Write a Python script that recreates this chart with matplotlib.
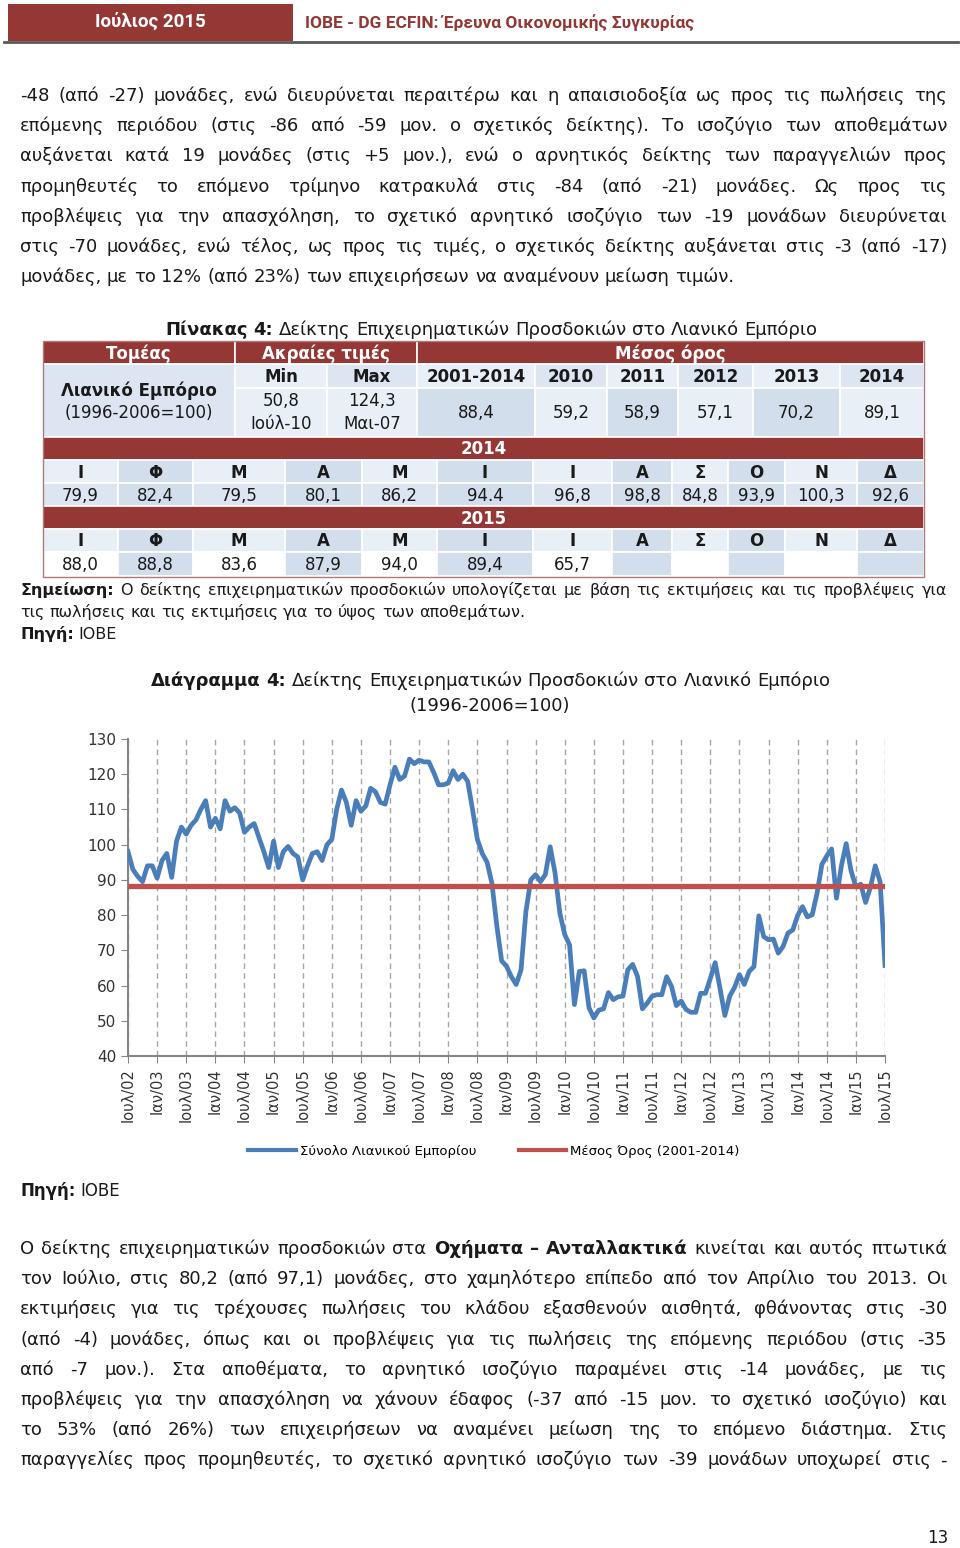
import matplotlib
matplotlib.use('Agg')
import matplotlib.pyplot as plt
from matplotlib.patches import Rectangle
from matplotlib.lines import Line2D

plt.rcParams['font.family'] = ['DejaVu Sans']

RED = '#953735'
BLUE = '#4a7ebb'
LINE_RED = '#c0504d'
TXT = '#1a1a1a'

# ---- data -------------------------------------------------------------
# monthly index, Jul 2002 .. Jul 2015 (1996-2006=100)
retail = [
    98, 93, 91, 89.5, 94, 94,                                               # 2002 (Jul-Dec)
    90.5, 95.5, 97.5, 90.7, 101, 105, 103, 105.5, 107, 110, 112.5, 105,     # 2003
    107.5, 104.5, 112.5, 109.5, 110.5, 109, 103.5, 105, 106, 102, 98, 93.5, # 2004
    101, 93.5, 98, 99.5, 97.5, 96.5, 90, 94, 97.5, 98, 95.5, 100,           # 2005
    101.5, 110, 115.5, 112, 105.5, 112.5, 109.5, 111, 116, 115, 112, 111.5, # 2006
    117, 122, 118.5, 119.5, 124.3, 123, 124, 123.5, 123.5, 120.5, 117, 117, # 2007
    117.5, 121, 118.5, 120, 118, 110, 101.5, 97.5, 95, 89, 77, 67,          # 2008
    65.5, 62.5, 60.3, 64.5, 81, 90, 91.5, 89.5, 91.5, 99.4, 92, 80.5,       # 2009
    74.5, 71.5, 54.6, 64, 64.2, 53.7, 50.8, 53, 53.4, 58, 56, 56.8,         # 2010
    57, 64.5, 66, 62.6, 53.4, 55, 57, 57.4, 57.4, 62.5, 59.8, 54.3,         # 2011
    55.6, 53.2, 52.4, 52.4, 57.8, 57.8, 62, 66.5, 59.2, 51.5, 57, 59.5,     # 2012
    63.1, 60.3, 64, 65.4, 79.8, 73.9, 73, 73.2, 69.2, 71.1, 74.9, 75.8,     # 2013
    79.9, 82.4, 79.5, 80.1, 86.2, 94.4, 96.8, 98.8, 84.8, 93.9, 100.3, 92.6,  # 2014
    88.0, 88.8, 83.6, 87.9, 94.0, 89.4, 65.7,                              # 2015
]
mean_2001_2014 = 88.4
tick_labels = ['Ιουλ/02', 'Ιαν/03', 'Ιουλ/03', 'Ιαν/04', 'Ιουλ/04', 'Ιαν/05', 'Ιουλ/05',
               'Ιαν/06', 'Ιουλ/06', 'Ιαν/07', 'Ιουλ/07', 'Ιαν/08', 'Ιουλ/08', 'Ιαν/09',
               'Ιουλ/09', 'Ιαν/10', 'Ιουλ/10', 'Ιαν/11', 'Ιουλ/11', 'Ιαν/12', 'Ιουλ/12',
               'Ιαν/13', 'Ιουλ/13', 'Ιαν/14', 'Ιουλ/14', 'Ιαν/15', 'Ιουλ/15']

# table
avg_labels = ['2001-2014', '2010', '2011', '2012', '2013', '2014']
avg_values = ['88,4', '59,2', '58,9', '57,1', '70,2', '89,1']
min_txt = ['50,8', 'Ιούλ-10']
max_txt = ['124,3', 'Μαι-07']
months = ['Ι', 'Φ', 'Μ', 'Α', 'Μ', 'Ι', 'Ι', 'Α', 'Σ', 'Ο', 'Ν', 'Δ']
tbl_2014 = ['79,9', '82,4', '79,5', '80,1', '86,2', '94.4', '96,8', '98,8', '84,8', '93,9', '100,3', '92,6']
tbl_2015 = ['88,0', '88,8', '83,6', '87,9', '94,0', '89,4', '65,7', '', '', '', '', '']

para1 = [
    "-48 (από -27) μονάδες, ενώ διευρύνεται περαιτέρω και η απαισιοδοξία ως προς τις πωλήσεις της",
    "επόμενης περιόδου (στις -86 από -59 μον. ο σχετικός δείκτης). Το ισοζύγιο των αποθεμάτων",
    "αυξάνεται κατά 19 μονάδες (στις +5 μον.), ενώ ο αρνητικός δείκτης των παραγγελιών προς",
    "προμηθευτές το επόμενο τρίμηνο κατρακυλά στις -84 (από -21) μονάδες. Ως προς τις",
    "προβλέψεις για την απασχόληση, το σχετικό αρνητικό ισοζύγιο των -19 μονάδων διευρύνεται",
    "στις -70 μονάδες, ενώ τέλος, ως προς τις τιμές, ο σχετικός δείκτης αυξάνεται στις -3 (από -17)",
    "μονάδες, με το 12% (από 23%) των επιχειρήσεων να αναμένουν μείωση τιμών.",
]
para2 = [
    [("Ο δείκτης επιχειρηματικών προσδοκιών στα", False), ("Οχήματα – Ανταλλακτικά", True),
     ("κινείται και αυτός πτωτικά", False)],
    [("τον Ιούλιο, στις 80,2 (από 97,1) μονάδες, στο χαμηλότερο επίπεδο από τον Απρίλιο του 2013. Οι", False)],
    [("εκτιμήσεις για τις τρέχουσες πωλήσεις του κλάδου εξασθενούν αισθητά, φθάνοντας στις -30", False)],
    [("(από -4) μονάδες, όπως και οι προβλέψεις για τις πωλήσεις της επόμενης περιόδου (στις -35", False)],
    [("από -7 μον.). Στα αποθέματα, το αρνητικό ισοζύγιο παραμένει στις -14 μονάδες, με τις", False)],
    [("προβλέψεις για την απασχόληση να χάνουν έδαφος (-37 από -15 μον. το σχετικό ισοζύγιο) και", False)],
    [("το 53% (από 26%) των επιχειρήσεων να αναμένει μείωση της το επόμενο διάστημα. Στις", False)],
    [("παραγγελίες προς προμηθευτές, το σχετικό αρνητικό ισοζύγιο των -39 μονάδων υποχωρεί στις -", False)],
]

# ---- page ---------------------------------------------------------------
fig = plt.figure(figsize=(9.6, 15.48), dpi=100)
page = fig.add_axes([0, 0, 1, 1])
page.set_xlim(0, 960)
page.set_ylim(1548, 0)
page.axis('off')
renderer = fig.canvas.get_renderer()


def line_of_words(y, parts, x0=20, x1=947, fs=13, justify=True, align='left', color=TXT):
    toks = []
    for txt, bold in parts:
        for w in txt.split():
            toks.append((w, bold))
    arts = [page.text(0, y, w, fontsize=fs, fontweight='bold' if b else 'normal',
                      color=color, va='baseline', ha='left') for w, b in toks]
    widths = [a.get_window_extent(renderer).width for a in arts]
    gap = 0.318 * fs * 100 / 72
    if justify and len(arts) > 1:
        gap = (x1 - x0 - sum(widths)) / (len(arts) - 1)
    total = sum(widths) + gap * (len(arts) - 1)
    x = x0 if align == 'left' else (x0 + x1) / 2 - total / 2
    for a, w in zip(arts, widths):
        a.set_x(x)
        x += w + gap


# header
page.add_patch(Rectangle((8, 4), 285, 37, fc=RED, ec='none'))
page.text(150, 22, 'Ιούλιος 2015', color='white', fontsize=13.5, fontweight='bold', ha='center', va='center',
          family=['Roboto', 'DejaVu Sans'])
page.text(305, 23, 'ΙΟΒΕ - DG ECFIN: Έρευνα Οικονομικής Συγκυρίας', color=RED, fontsize=12.5,
          fontweight='bold', ha='left', va='center', family=['Roboto', 'DejaVu Sans'])
page.plot([4, 958], [41.5, 41.5], color='#595959', lw=2)

# paragraph 1
for i, s in enumerate(para1):
    line_of_words(101 + i * 30.2, [(s, False)], justify=(i < len(para1) - 1))

# table title
line_of_words(335, [("Πίνακας 4:", True), ("Δείκτης Επιχειρηματικών Προσδοκιών στο Λιανικό Εμπόριο", False)],
              x0=158, x1=825, justify=False, align='center')

LIGHT, DARK, MID = '#e9eff7', '#d3deed', '#dce5f1'


def cell(x0, x1, y0, y1, fc, txt='', bold=False, color=TXT, fs=12):
    page.add_patch(Rectangle((x0, y0), x1 - x0, y1 - y0, fc=fc, ec='white', lw=1.2))
    if txt:
        page.text((x0 + x1) / 2, (y0 + y1) / 2 + 1, txt, fontsize=fs, ha='center', va='center',
                  fontweight='bold' if bold else 'normal', color=color)


top_cols = [43, 235, 327, 417, 535, 607, 678, 753, 840, 924]
mon_cols = [43, 118, 193, 285, 362, 437, 533, 612, 672, 728, 785, 857, 924]

# row 1 (red header)
cell(43, 235, 341, 364, RED, 'Τομέας', True, 'white')
cell(235, 417, 341, 364, RED, 'Ακραίες τιμές', True, 'white')
cell(417, 924, 341, 364, RED, 'Μέσος όρος', True, 'white')
# sector cell
cell(43, 235, 364, 437, MID)
page.text(139, 391, 'Λιανικό Εμπόριο', fontsize=12, fontweight='bold', ha='center', va='center', color=TXT)
page.text(139, 413, '(1996-2006=100)', fontsize=12, ha='center', va='center', color=TXT)
# row 2 labels
labels2 = ['Min', 'Max'] + avg_labels
for j, lab in enumerate(labels2):
    cell(top_cols[j + 1], top_cols[j + 2], 364, 388, LIGHT if j % 2 == 0 else MID, lab, True)
# row 3 values
cell(235, 327, 388, 437, LIGHT)
cell(327, 417, 388, 437, LIGHT)
for k in range(2):
    page.text(281, 401 + k * 23, min_txt[k], fontsize=12, ha='center', va='center', color=TXT)
    page.text(372, 401 + k * 23, max_txt[k], fontsize=12, ha='center', va='center', color=TXT)
for j, v in enumerate(avg_values):
    cell(top_cols[j + 3], top_cols[j + 4], 388, 437, DARK if j % 2 == 0 else LIGHT, v)

# monthly rows
for (y0, year, vals, vfill) in [(437, '2014', tbl_2014, (MID, DARK)), (506, '2015', tbl_2015, ('white', DARK))]:
    cell(43, 924, y0, y0 + 23, RED)
    page.text(484, y0 + 12.5, year, fontsize=12, fontweight='bold', color='white', ha='center', va='center')
    for j in range(12):
        x0, x1 = mon_cols[j], mon_cols[j + 1]
        cell(x0, x1, y0 + 23, y0 + 46, LIGHT if j % 2 == 0 else DARK, months[j], True)
        cell(x0, x1, y0 + 46, y0 + 70, vfill[j % 2], vals[j])
page.add_patch(Rectangle((43, 341), 881, 236, fc='none', ec='#b07a78', lw=1))

# notes
line_of_words(595, [("Σημείωση:", True), ("Ο δείκτης επιχειρηματικών προσδοκιών υπολογίζεται με βάση τις "
                                          "εκτιμήσεις και τις προβλέψεις για", False)], fs=11.5)
line_of_words(617, [("τις πωλήσεις και τις εκτιμήσεις για το ύψος των αποθεμάτων.", False)], fs=11.5, justify=False)
line_of_words(639, [("Πηγή:", True), ("ΙΟΒΕ", False)], fs=11.5, justify=False)

# chart title
line_of_words(686, [("Διάγραμμα 4:", True), ("Δείκτης Επιχειρηματικών Προσδοκιών στο Λιανικό Εμπόριο", False)],
              x0=143, x1=838, fs=13, justify=False, align='center')
page.text(490, 711, '(1996-2006=100)', fontsize=13, ha='center', va='baseline', color=TXT)

# ---- chart ---------------------------------------------------------------
ax = fig.add_axes([128 / 960, 1 - 1056 / 1548, (885 - 128) / 960, (1056 - 739) / 1548])
ax.patch.set_alpha(0)
months_idx = list(range(len(retail)))
ax.plot(months_idx, retail, color=BLUE, lw=3.4, solid_joinstyle='round', zorder=3)
ax.plot(months_idx, [mean_2001_2014] * len(retail), color=LINE_RED, lw=3.8, zorder=4)
ax.set_xlim(0, 156)
ax.set_ylim(40, 130)
ax.set_yticks(range(40, 131, 10))
ax.set_xticks(range(0, 157, 6))
ax.set_xticklabels(tick_labels, rotation=90, fontsize=10.5, color='#333333')
ax.tick_params(axis='y', labelsize=11, colors='#333333', length=5, color='#868686')
ax.tick_params(axis='x', length=5, color='#868686', pad=4)
ax.grid(axis='x', color='#a6a6a6', ls=(0, (4, 3)), lw=1)
for s in ['top', 'right']:
    ax.spines[s].set_visible(False)
for s in ['left', 'bottom']:
    ax.spines[s].set_color('#868686')
    ax.spines[s].set_linewidth(1.5)

handles = [Line2D([], [], color=BLUE, lw=3), Line2D([], [], color=LINE_RED, lw=3)]
fig.legend(handles, ['Σύνολο Λιανικού Εμπορίου', 'Μέσος Όρος (2001-2014)'], loc='center',
           bbox_to_anchor=(494 / 960, 1 - 1151 / 1548), ncol=2, frameon=False, fontsize=9.5,
           handlelength=3.6, columnspacing=3.2, handletextpad=0.3)

line_of_words(1196, [("Πηγή:", True), ("ΙΟΒΕ", False)], fs=12, justify=False)

# paragraph 2
for i, parts in enumerate(para2):
    line_of_words(1254 + i * 30.2, parts)

page.text(938, 1538, '13', fontsize=12, ha='center', va='center', color=TXT)

fig.savefig('out.png', dpi=100)
